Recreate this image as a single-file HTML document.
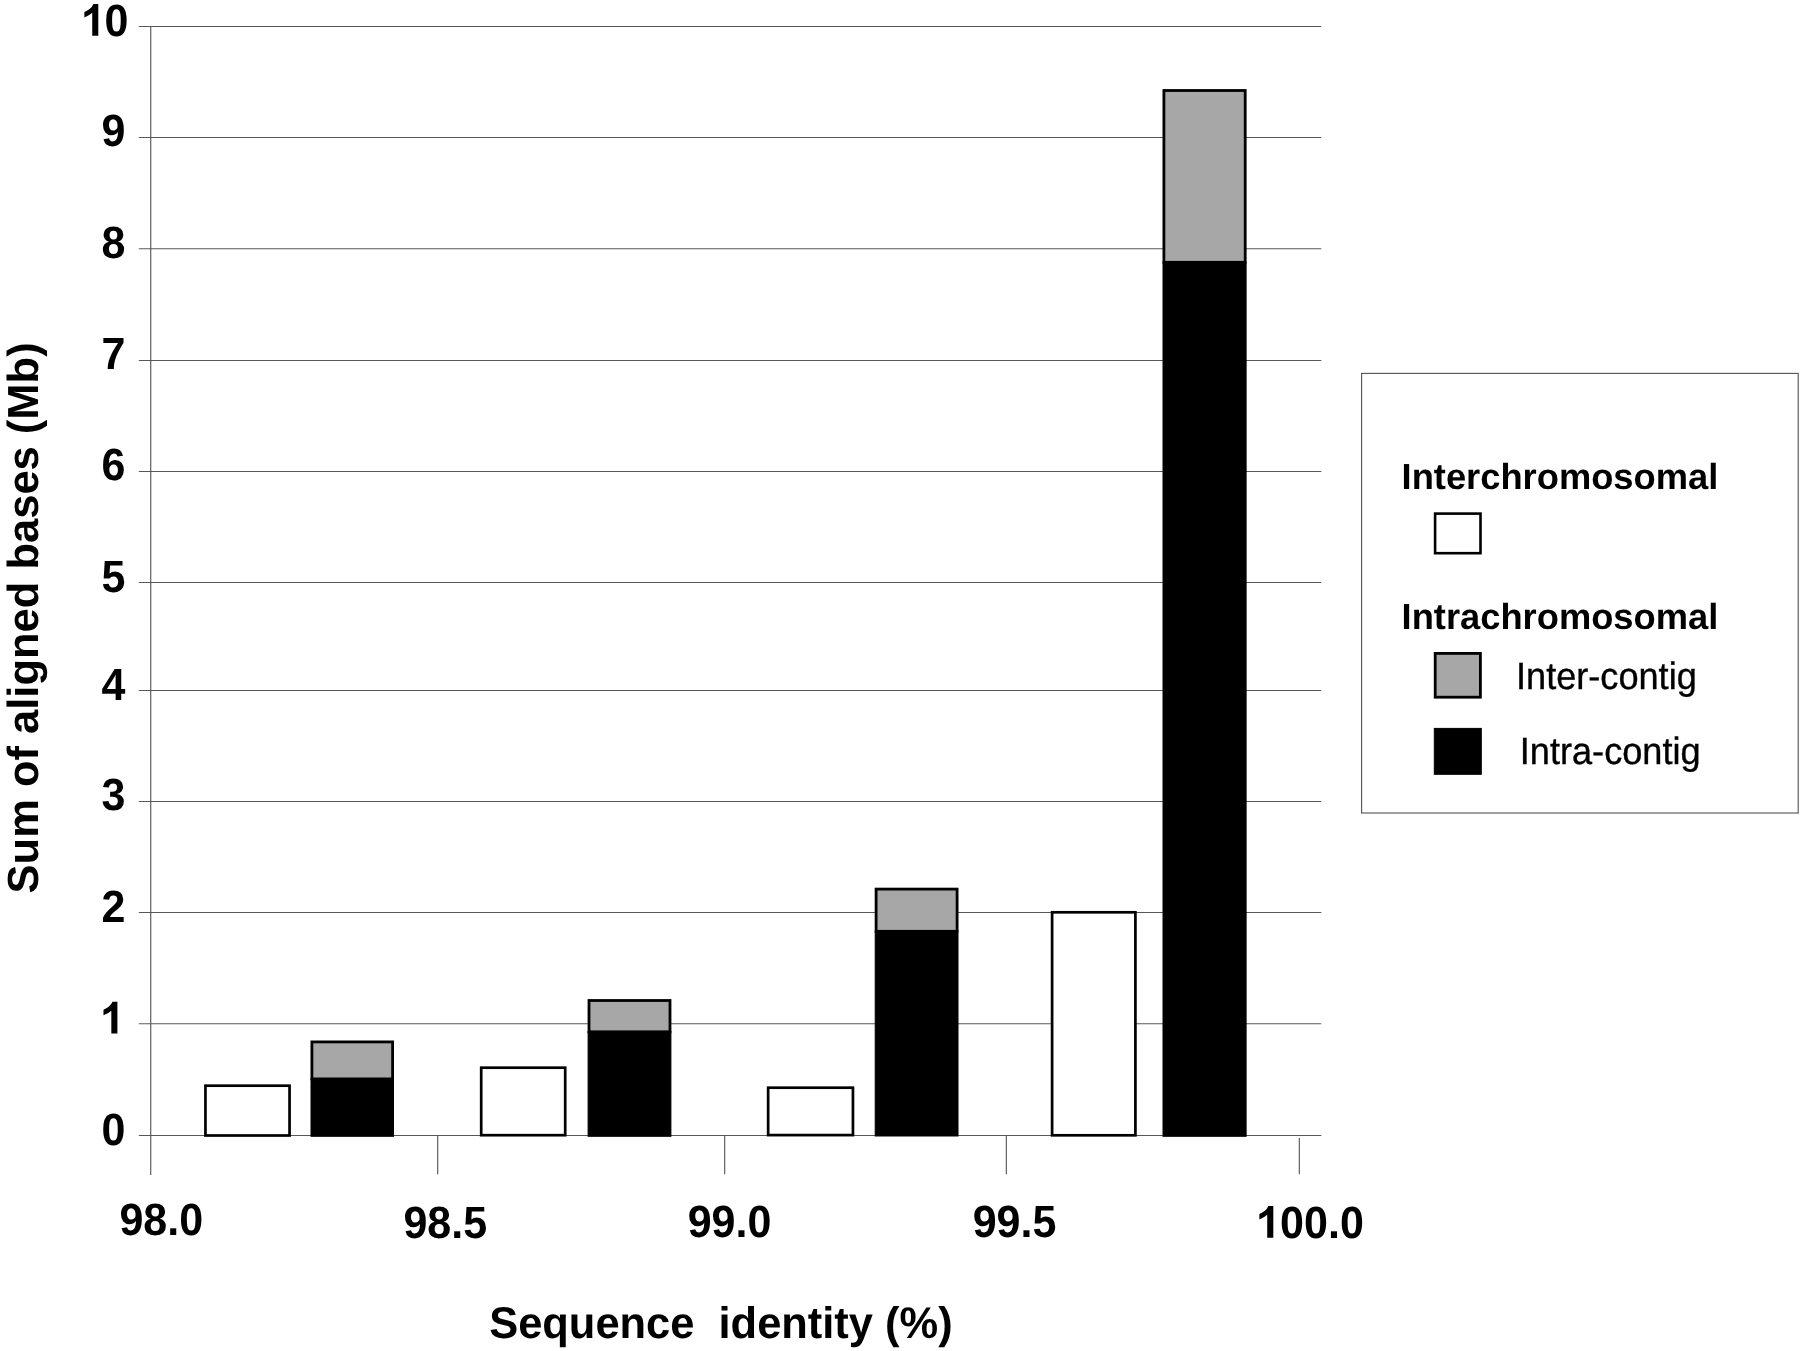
<!DOCTYPE html>
<html>
<head>
<meta charset="utf-8">
<title>Sum of aligned bases vs sequence identity</title>
<style>
  html, body { margin: 0; padding: 0; background: #fff; }
  body { width: 1800px; height: 1351px; overflow: hidden; position: relative;
         font-family: "Liberation Sans", sans-serif; }
  svg { position: absolute; left: 0; top: 0; display: block; will-change: transform; }
  text { font-family: "Liberation Sans", sans-serif; fill: #000; text-rendering: geometricPrecision; white-space: pre; }
  path { fill: #000; }
  .b { font-weight: bold; }
  .r { stroke: #000; stroke-width: 0.35px; }
  .grid line { stroke: #585858; stroke-width: 1.05; }
  .axis line { stroke: #505050; stroke-width: 1.1; }
  .tick text { font-weight: bold; font-size: 43px; }
  .e { text-anchor: end; }
  .wbar rect { fill: #fff; stroke: #000; stroke-width: 2.7; }
  .kbar rect { fill: #000; stroke: #000; stroke-width: 1; }
  .gbar rect { fill: #a7a7a7; stroke: #000; stroke-width: 2.8; }
</style>
</head>
<body>
<svg width="1800" height="1351" viewBox="0 0 1800 1351">
  <rect x="0" y="0" width="1800" height="1351" fill="#ffffff"/>

  <!-- horizontal gridlines (with left tick stubs) -->
  <g class="grid">
    <line x1="138.8" y1="26.5" x2="1321.3" y2="26.5"/>
    <line x1="138.8" y1="137.5" x2="1321.3" y2="137.5"/>
    <line x1="138.8" y1="248.8" x2="1321.3" y2="248.8"/>
    <line x1="138.8" y1="360.5" x2="1321.3" y2="360.5"/>
    <line x1="138.8" y1="471.5" x2="1321.3" y2="471.5"/>
    <line x1="138.8" y1="582.5" x2="1321.3" y2="582.5"/>
    <line x1="138.8" y1="690.5" x2="1321.3" y2="690.5"/>
    <line x1="138.8" y1="801.5" x2="1321.3" y2="801.5"/>
    <line x1="138.8" y1="912.5" x2="1321.3" y2="912.5"/>
    <line x1="138.8" y1="1023.8" x2="1321.3" y2="1023.8"/>
    <line x1="138.8" y1="1135.5" x2="1321.3" y2="1135.5"/>
  </g>
  <!-- y axis and x ticks -->
  <g class="axis">
    <line x1="150.75" y1="26" x2="150.75" y2="1175"/>
    <line x1="437.7" y1="1136" x2="437.7" y2="1174.3"/>
    <line x1="724.7" y1="1136" x2="724.7" y2="1174.3"/>
    <line x1="1006.3" y1="1136" x2="1006.3" y2="1174.3"/>
    <line x1="1299.3" y1="1138" x2="1299.3" y2="1174.3"/>
  </g>
  <!-- y tick labels -->
  <g class="tick">
    <path d="M0 0H-281V1059Q-435 915 -644 846V1101Q-534 1137 -405 1237.5T-228 1472H0Z" transform="translate(98.3 35.7) scale(0.0216 -0.0216)"/>
    <text class="e" transform="translate(128.4 35.8) scale(1 1.05)">0</text>
    <text class="e" transform="translate(125.4 146.3) scale(1 1.05)">9</text>
    <text class="e" transform="translate(125.4 257.6) scale(1 1.05)">8</text>
    <text class="e" transform="translate(125.4 369.2) scale(1 1.05)">7</text>
    <text class="e" transform="translate(125.4 480.3) scale(1 1.05)">6</text>
    <text class="e" transform="translate(125.4 591.6) scale(1 1.05)">5</text>
    <text class="e" transform="translate(125.4 699.9) scale(1 1.05)">4</text>
    <text class="e" transform="translate(125.4 809.8) scale(1 1.05)">3</text>
    <text class="e" transform="translate(125.4 921.5) scale(1 1.05)">2</text>
    <path d="M0 0H-281V1059Q-435 915 -644 846V1101Q-534 1137 -405 1237.5T-228 1472H0Z" transform="translate(117.4 1033.6) scale(0.0216 -0.0216)"/>
    <text class="e" transform="translate(125.4 1144.9) scale(1 1.05)">0</text>
  </g>
  <!-- x tick labels -->
  <g class="tick">
    <text transform="translate(119.4 1234.8) scale(1 1.05)">98.0</text>
    <text transform="translate(403.4 1237.5) scale(1 1.05)">98.5</text>
    <text transform="translate(687.7 1236.9) scale(1 1.05)">99.0</text>
    <text transform="translate(972.7 1237.1) scale(1 1.05)">99.5</text>
    <path d="M0 0H-281V1059Q-435 915 -644 846V1101Q-534 1137 -405 1237.5T-228 1472H0Z" transform="translate(1273.3 1237.7) scale(0.0216 -0.0216)"/>
    <text transform="translate(1280.1 1237.9) scale(1 1.05)">00.0</text>
  </g>
  <!-- axis titles -->
  <text class="b" font-size="43.5" text-anchor="middle" transform="translate(37.9 617.9) rotate(-90)">Sum of aligned bases (Mb)</text>
  <text class="b" font-size="43.45" text-anchor="middle" transform="translate(720.9 1338.4) scale(1 1.02)">Sequence  identity (%)</text>

  <!-- bars: interchromosomal (white) -->
  <g class="wbar">
    <rect x="205.45" y="1085.7" width="84.1" height="49.8"/>
    <rect x="481.2" y="1067.7" width="84" height="67.5"/>
    <rect x="768.15" y="1087.7" width="84.8" height="47.4"/>
    <rect x="1052.1" y="912.3" width="83.3" height="223"/>
  </g>
  <!-- bars: intra-contig (black) -->
  <g class="kbar">
    <rect x="311" y="1078.6" width="82.5" height="57.7"/>
    <rect x="588.1" y="1031.5" width="82.8" height="104.8"/>
    <rect x="875.2" y="931" width="82.8" height="205"/>
    <rect x="1163" y="262" width="83.1" height="874.3"/>
  </g>
  <!-- bars: inter-contig (gray) -->
  <g class="gbar">
    <rect x="311.9" y="1041.9" width="80.7" height="37"/>
    <rect x="589" y="1000.5" width="81" height="31.3"/>
    <rect x="876.1" y="889.1" width="81" height="42.2"/>
    <rect x="1163.9" y="90.5" width="81.3" height="171.8"/>
  </g>

  <!-- legend -->
  <rect x="1361.6" y="373.4" width="436.6" height="439.6" fill="#fff" stroke="#505050" stroke-width="1.1"/>
  <text class="b" font-size="36.3" x="1401.6" y="489.3">Interchromosomal</text>
  <rect x="1435.1" y="513.6" width="45.4" height="39.6" fill="#fff" stroke="#000" stroke-width="2.6"/>
  <text class="b" font-size="36.3" x="1401.6" y="629.1">Intrachromosomal</text>
  <rect x="1435.2" y="653.4" width="45.2" height="43.8" fill="#a7a7a7" stroke="#000" stroke-width="2.8"/>
  <text font-size="36.15" class="r" transform="translate(1516 689) scale(1 1.05)">Inter-contig</text>
  <rect x="1434.3" y="728.4" width="47" height="45.9" fill="#000" stroke="#000" stroke-width="1"/>
  <text font-size="36.15" class="r" transform="translate(1519.8 764.4) scale(1 1.05)">Intra-contig</text>
</svg>
</body>
</html>
